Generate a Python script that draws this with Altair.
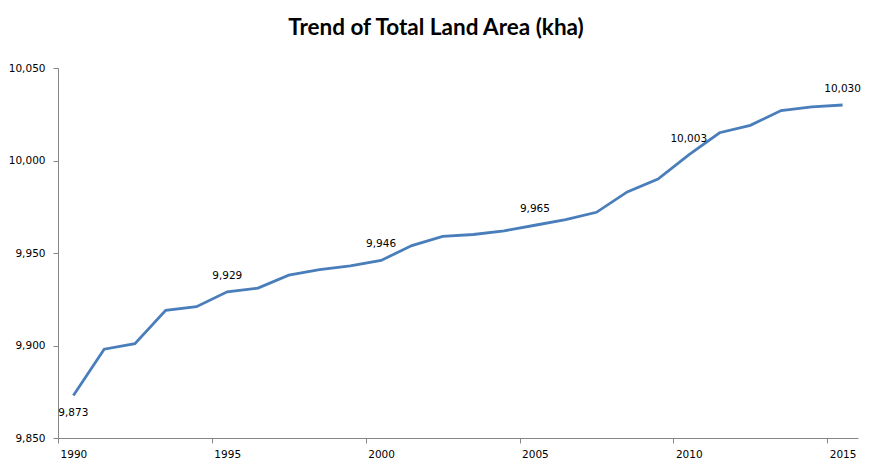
import altair as alt
import pandas as pd

years = list(range(1990, 2016))
land_area = [9873, 9898, 9901, 9919, 9921, 9929, 9931, 9938, 9941, 9943,
             9946, 9954, 9959, 9960, 9962, 9965, 9968, 9972, 9983, 9990,
             10003, 10015, 10019, 10027, 10029, 10030]
label_below_years = [1990]
label_above_years = [1995, 2000, 2005, 2010, 2015]
x_tick_years = [1990, 1995, 2000, 2005, 2010, 2015]
y_ticks = [9850, 9900, 9950, 10000, 10050]
title_text = "Trend of Total Land Area (kha)"

df = pd.DataFrame({"year": years, "area": land_area})

W, H = 800, 370
half_year_px = W / 26 / 2
axis_gray = "#868686"
tick_font = "DejaVu Sans"

x_enc = alt.X(
    "year:Q",
    scale=alt.Scale(domain=[1989.5, 2015.5], nice=False, zero=False),
    axis=alt.Axis(
        values=x_tick_years, format="d", title=None, grid=False,
        tickOffset=-half_year_px, labelOffset=half_year_px,
        domainColor=axis_gray, tickColor=axis_gray, tickSize=5,
        labelPadding=6, labelFont=tick_font, labelFontSize=10.5,
        labelColor="#000000",
    ),
)
y_enc = alt.Y(
    "area:Q",
    scale=alt.Scale(domain=[9850, 10050], nice=False, zero=False),
    axis=alt.Axis(
        values=y_ticks, format=",.0f", title=None, grid=False,
        domainColor=axis_gray, tickColor=axis_gray, tickSize=5,
        labelPadding=8, labelFont=tick_font, labelFontSize=10.5,
        labelColor="#000000",
    ),
)

base = alt.Chart(df)

line = base.mark_line(color="#4A7EBB", strokeWidth=2.8, clip=False).encode(x=x_enc, y=y_enc)

labels_above = base.transform_filter(
    alt.FieldOneOfPredicate(field="year", oneOf=label_above_years)
).mark_text(dy=-16, font=tick_font, fontSize=10.5, color="#000000").encode(
    x="year:Q", y="area:Q", text=alt.Text("area:Q", format=",.0f")
)

labels_below = base.transform_filter(
    alt.FieldOneOfPredicate(field="year", oneOf=label_below_years)
).mark_text(dy=18, font=tick_font, fontSize=10.5, color="#000000").encode(
    x="year:Q", y="area:Q", text=alt.Text("area:Q", format=",.0f")
)

title = alt.Chart(pd.DataFrame({"t": [title_text]})).mark_text(
    font="Lato", fontSize=22.5, fontWeight="bold", color="#000000",
    align="center", baseline="middle",
).encode(x=alt.value(378), y=alt.value(-40), text="t:N")

chart = alt.layer(line, labels_above, labels_below, title).properties(
    width=W, height=H,
    autosize=alt.AutoSizeParams(type="none"),
    padding={"left": 50, "top": 60, "right": 8, "bottom": 26},
    background="#ffffff",
).configure_view(stroke=None)

chart.save("out.html", embed_options={"renderer": "svg", "actions": False})
